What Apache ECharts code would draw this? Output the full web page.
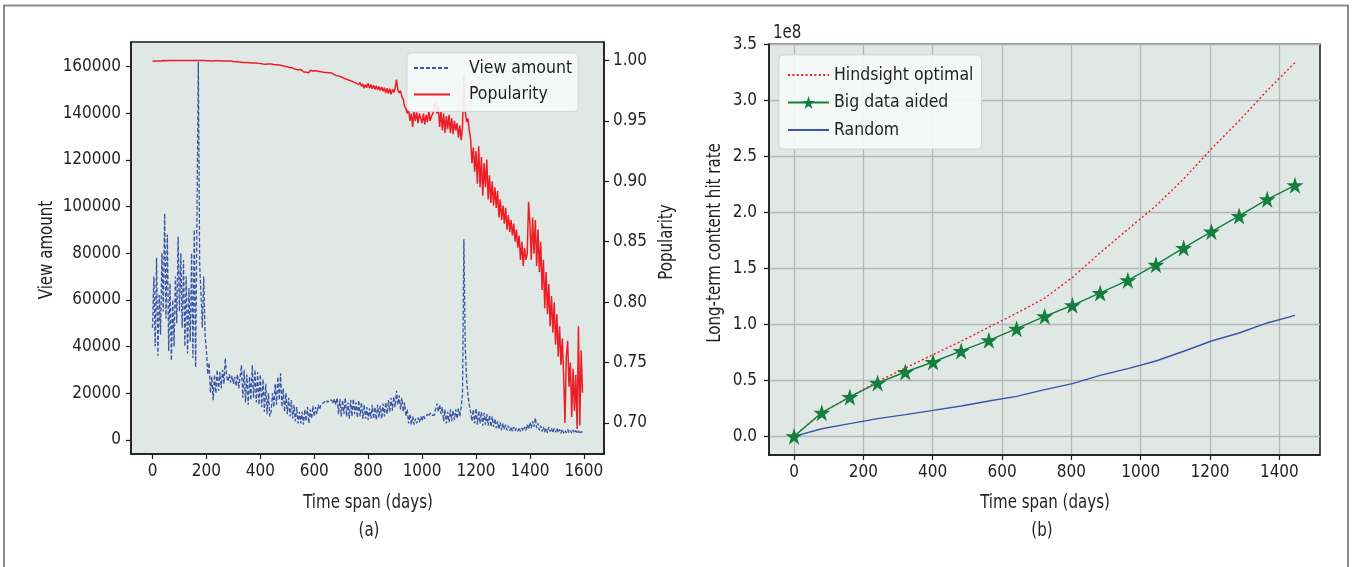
<!DOCTYPE html>
<html><head><meta charset="utf-8">
<script src="https://cdn.jsdelivr.net/npm/echarts@6/dist/echarts.min.js"></script>
<style>html,body{margin:0;padding:0;background:#fff;}#chart{width:1358px;height:567px;}</style>
</head><body><div id="chart"></div>
<script>
const FONT = "'Liberation Sans Narrow','DejaVu Sans Condensed','Arial Narrow',sans-serif";
const INK = '#231f20';

// ---- Panel (a): daily view amount and popularity, sampled every 5 days ----
const DAY_STEP = 5;
const viewAmount = [
  48000,70000,40000,78000,36000,62000,45000,80000,55000,97000,52000,88000,38000,67000,34000,60000,40000,70000,50000,87000,
  55000,80000,48000,77000,40000,70000,37000,65000,42000,80000,35000,90000,31000,95000,162000,75000,62000,48000,70000,45000,
  38000,28000,33000,20000,27000,17000,28000,20000,30000,21000,29000,22000,30000,24000,35000,27000,25000,28000,24500,27500,
  24000,27000,23000,28000,22000,27000,32000,18000,30000,16000,28000,15000,27000,17000,32000,18000,30000,16000,29000,15000,
  28000,14000,26000,12000,24000,11000,20000,10000,12000,20000,14000,24000,15000,27000,17000,28500,14000,22000,12000,20000,
  11000,18000,10000,17000,9000,15000,8000,14000,7000,12000,7000,12000,6500,13000,8000,14000,7000,13000,9000,14500,
  10000,14000,11000,15000,13000,15000,14500,16000,15500,17000,16000,17000,16500,17000,15500,17500,15000,18000,11000,17500,
  10000,17000,11000,18000,10000,16000,9000,17000,10000,17500,11000,16000,9500,17000,10000,16000,9000,15000,9000,14000,
  8500,13500,9000,15000,9000,14000,8500,15000,9500,14500,9000,15500,10000,16000,11000,17000,12000,18000,12500,18500,
  14000,21000,15000,19000,13000,18000,12000,16000,10000,13000,7000,11000,6500,10000,6500,9000,7000,9500,7500,10000,
  8000,10500,9000,10000,11000,10000,11500,10500,11000,10500,13000,15500,12000,15000,11000,14000,8000,13000,7000,12000,
  7500,13000,8000,12500,8500,13000,9000,13500,10000,14000,20000,86000,40000,26000,19000,15000,12000,8000,13000,7000,
  13500,6500,12500,7000,12000,6000,11500,6500,11000,6000,10500,5500,10000,5500,9000,5000,8000,4500,7500,4000,
  7000,4500,6500,4000,6000,3800,5500,3600,5500,3800,5000,3600,5200,3500,5000,3800,5500,4000,6500,4500,
  7500,5000,8000,5500,9400,5000,7000,4000,6000,3500,5500,3200,5000,3000,5500,3500,5000,3000,4800,3200,
  5000,3000,4500,2800,4500,2800,4000,3000,4500,3000,4000,2800,4200,2900,4000,2700,3800,2600,3500,3200
];
const popularity = [
  0.9993,0.9993,0.9994,0.9993,0.9994,0.9995,0.9995,0.9997,0.9998,0.9999,0.9997,0.9998,0.9998,0.9999,0.9999,1.0,0.9999,1.0,1.0,0.9999,
  1.0,0.9999,1.0,1.0,0.9999,1.0,1.0,0.9999,1.0,1.0,0.9999,1.0,1.0,0.9999,1.0,1.0,0.9999,0.9998,0.9999,0.9998,
  0.9997,0.9998,0.9996,0.9997,0.9995,0.9997,0.9996,0.9997,0.9996,0.9996,0.9997,0.9996,0.9995,0.9996,0.9995,0.9994,0.9995,0.9993,0.9994,0.9992,
  0.9990,0.9988,0.9989,0.9986,0.9987,0.9985,0.9984,0.9986,0.9983,0.9981,0.9982,0.9979,0.9980,0.9977,0.9978,0.9976,0.9978,0.9974,0.9976,0.9973,
  0.9975,0.9972,0.9970,0.9965,0.9968,0.9972,0.9969,0.9966,0.9970,0.9967,0.9965,0.9968,0.9964,0.9966,0.9962,0.9960,0.9958,0.9955,0.9952,0.9950,
  0.9948,0.9944,0.9940,0.9935,0.9938,0.9930,0.9926,0.9932,0.9922,0.9918,0.9925,0.9912,0.9906,0.9915,0.9902,0.9910,0.9898,0.9918,0.9905,0.9912,
  0.9905,0.9915,0.9900,0.9910,0.9898,0.9906,0.9895,0.9902,0.9892,0.9900,0.9890,0.9898,0.9886,0.9895,0.9888,0.9880,0.9885,0.9872,0.9878,0.9868,
  0.9870,0.9858,0.9864,0.9848,0.9856,0.9840,0.9848,0.9832,0.9840,0.9822,0.9832,0.9812,0.9825,0.9800,0.9818,0.9785,0.9805,0.9770,0.9800,0.9775,
  0.9810,0.9770,0.9800,0.9765,0.9795,0.9760,0.9790,0.9755,0.9785,0.9750,0.9780,0.9745,0.9775,0.9730,0.9770,0.9725,0.9765,0.9720,0.9760,0.9735,
  0.9770,0.9840,0.9760,0.9730,0.9750,0.9700,0.9680,0.9620,0.9600,0.9560,0.9600,0.9500,0.9560,0.9450,0.9580,0.9500,0.9570,0.9480,0.9560,0.9520,
  0.9480,0.9560,0.9470,0.9550,0.9490,0.9580,0.9500,0.9540,0.9560,0.9620,0.9660,0.9560,0.9620,0.9450,0.9580,0.9420,0.9560,0.9400,0.9540,0.9430,
  0.9550,0.9400,0.9520,0.9390,0.9500,0.9420,0.9480,0.9360,0.9460,0.9340,0.9450,0.9880,0.9580,0.9490,0.9520,0.9420,0.9350,0.9150,0.9280,0.9080,
  0.9250,0.8980,0.9290,0.8950,0.9200,0.8880,0.9150,0.8950,0.9180,0.8850,0.9050,0.8820,0.9000,0.8800,0.8950,0.8780,0.8920,0.8700,0.8850,0.8680,
  0.8800,0.8650,0.8780,0.8600,0.8720,0.8580,0.8680,0.8550,0.8650,0.8500,0.8600,0.8450,0.8550,0.8350,0.8500,0.8300,0.8450,0.8350,0.8400,0.8830,
  0.8650,0.8350,0.8700,0.8400,0.8680,0.8300,0.8600,0.8250,0.8500,0.8100,0.8350,0.7950,0.8250,0.7900,0.8150,0.7800,0.8050,0.7750,0.8000,0.7650,
  0.7900,0.7550,0.7800,0.7480,0.7700,0.7400,0.7000,0.7550,0.7680,0.7300,0.7500,0.7050,0.7450,0.7100,0.7400,0.6950,0.7800,0.6980,0.7600,0.7250
];
const leftDays = viewAmount.map((_, i) => i * DAY_STEP);
const leftXTicks = [0, 200, 400, 600, 800, 1000, 1200, 1400, 1600];
const viewTicks = [0, 20000, 40000, 60000, 80000, 100000, 120000, 140000, 160000];
const popTicks = [0.70, 0.75, 0.80, 0.85, 0.90, 0.95, 1.00];

// ---- Panel (b): long-term content hit rate ----
const rightDays = [0, 80, 161, 241, 321, 401, 482, 562, 642, 723, 803, 883, 963, 1044, 1124, 1204, 1284, 1365, 1445];
const hindsightOptimal = [0, 21100000, 35200000, 49000000, 61000000, 73000000, 85000000, 97500000, 110000000, 123500000,
  142000000, 164000000, 185000000, 206000000, 230000000, 257000000, 282000000, 309000000, 334000000];
const bigDataAided = [0, 21150000, 35150000, 47660000, 57500000, 66400000, 76300000, 85800000, 96200000, 107200000,
  117100000, 128100000, 139400000, 153400000, 168300000, 182900000, 196900000, 211800000, 224300000];
const randomPolicy = [0, 6800000, 11300000, 15800000, 19400000, 23200000, 27100000, 31600000, 35700000, 41700000,
  47100000, 54500000, 60500000, 67300000, 76000000, 85200000, 92300000, 101300000, 108100000];
const rightXTicks = [0, 200, 400, 600, 800, 1000, 1200, 1400];
const hitTicks = [0, 50000000, 100000000, 150000000, 200000000, 250000000, 300000000, 350000000];

const RED = '#ee1d25', BLUE = '#3a54a6', GREEN = '#147e3e';
const BG = '#dfe8e5';
const STAR = 'path://M50,2 L61.2,36.6 L97.6,36.6 L68.2,58 L79.4,92.6 L50,71.2 L20.6,92.6 L31.8,58 L2.4,36.6 L38.8,36.6 Z';

const pair = (xs, ys) => ys.map((v, i) => [xs[i], v]);
const txt = { fontFamily: FONT, fontSize: 17, color: INK };
const SPINE = '#1a1a1a';

function valAxis(o) {
  return Object.assign({
    type: 'value',
    axisLine: { show: true, onZero: false, lineStyle: { color: SPINE, width: 1.5 } },
    splitLine: { show: false }
  }, o);
}
function ticks(vals) {
  return { show: true, length: 5, customValues: vals, lineStyle: { color: SPINE, width: 1.2 } };
}
function labels(vals, margin, fmt) {
  return Object.assign({ customValues: vals, margin: margin, formatter: fmt }, txt);
}
function title(text, x, y, rot, align) {
  return { type: 'text', x: x, y: y, rotation: rot || 0, scaleX: 0.88, scaleY: 1,
    style: { text: text, fontFamily: FONT, fontSize: 19, fill: INK, align: align || 'center', verticalAlign: 'middle' } };
}

const chart = echarts.init(document.getElementById('chart'), null, { renderer: 'canvas' });
chart.setOption({
  animation: false,
  backgroundColor: '#ffffff',
  grid: [
    { left: 131, top: 42, width: 473, height: 412, show: true, backgroundColor: BG, borderColor: SPINE, borderWidth: 1.5 },
    { left: 769, top: 44.3, width: 551, height: 410.7, show: true, backgroundColor: BG, borderColor: SPINE, borderWidth: 1.5 }
  ],
  xAxis: [
    valAxis({ gridIndex: 0, min: -79.75, max: 1674.75,
      axisTick: ticks(leftXTicks), axisLabel: labels(leftXTicks, 9, v => String(Math.round(v))) }),
    valAxis({ gridIndex: 1, min: -72.25, max: 1517.25,
      axisTick: ticks(rightXTicks), axisLabel: labels(rightXTicks, 9, v => String(Math.round(v))),
      splitLine: { show: true, lineStyle: { color: '#b4b7b6', width: 1.3 } } })
  ],
  yAxis: [
    valAxis({ gridIndex: 0, min: -6100, max: 170500,
      axisTick: ticks(viewTicks), axisLabel: labels(viewTicks, 10, v => String(Math.round(v))) }),
    valAxis({ gridIndex: 0, position: 'right', min: 0.6744, max: 1.0152,
      axisTick: ticks(popTicks), axisLabel: labels(popTicks, 9, v => v.toFixed(2)) }),
    valAxis({ gridIndex: 1, min: -16680000, max: 350280000,
      axisTick: ticks(hitTicks), axisLabel: labels(hitTicks, 12, v => (v / 1e8).toFixed(1)),
      splitLine: { show: true, lineStyle: { color: '#b4b7b6', width: 1.3 } } })
  ],
  legend: [
    { data: [{ name: 'View amount', itemStyle: { opacity: 0 } }, { name: 'Popularity', itemStyle: { opacity: 0 } }],
      orient: 'vertical', left: 407, top: 53,
      itemWidth: 36, itemHeight: 12, itemGap: 8.5, padding: [6, 6, 8, 6],
      backgroundColor: 'rgba(245,248,247,0.92)', borderColor: '#d3d7d6', borderWidth: 1, borderRadius: 4,
      textStyle: Object.assign({ padding: [0, 0, 0, 14] }, txt, { fontSize: 17.5 }) },
    { data: [{ name: 'Hindsight optimal', itemStyle: { opacity: 0 } }, { name: 'Big data aided' }, { name: 'Random', itemStyle: { opacity: 0 } }],
      orient: 'vertical', left: 779, top: 55,
      itemWidth: 41, itemHeight: 16, itemGap: 9.5, padding: [11, 8, 10, 8],
      backgroundColor: 'rgba(245,248,247,0.92)', borderColor: '#d3d7d6', borderWidth: 1, borderRadius: 4,
      textStyle: Object.assign({}, txt, { fontSize: 17.5 }) }
  ],
  series: [
    { name: 'View amount', type: 'line', xAxisIndex: 0, yAxisIndex: 0, data: pair(leftDays, viewAmount),
      symbol: 'none', lineStyle: { color: BLUE, width: 1.3, type: [4, 2] }, itemStyle: { color: BLUE }, z: 2 },
    { name: 'Popularity', type: 'line', xAxisIndex: 0, yAxisIndex: 1, data: pair(leftDays, popularity),
      symbol: 'none', lineStyle: { color: RED, width: 1.5 }, itemStyle: { color: RED }, z: 3 },
    { name: 'Hindsight optimal', type: 'line', xAxisIndex: 1, yAxisIndex: 2, data: pair(rightDays, hindsightOptimal),
      symbol: 'none', lineStyle: { color: RED, width: 1.4, type: [2, 2.4] }, itemStyle: { color: RED }, z: 2 },
    { name: 'Big data aided', type: 'line', xAxisIndex: 1, yAxisIndex: 2, data: pair(rightDays, bigDataAided),
      symbol: STAR, symbolSize: 17, showSymbol: true, lineStyle: { color: GREEN, width: 1.4 },
      itemStyle: { color: GREEN, borderWidth: 0 }, z: 4 },
    { name: 'Random', type: 'line', xAxisIndex: 1, yAxisIndex: 2, data: pair(rightDays, randomPolicy),
      symbol: 'none', lineStyle: { color: BLUE, width: 1.4 }, itemStyle: { color: BLUE }, z: 3 }
  ],
  graphic: [
    { type: 'polyline', shape: { points: [[4, 567], [4, 5.5], [1348, 5.5], [1348, 567]] },
      style: { stroke: '#8a8a8a', lineWidth: 2, fill: null }, silent: true },
    title('View amount', 47, 250, Math.PI / 2),
    title('Popularity', 667, 242, Math.PI / 2),
    title('Long-term content hit rate', 715, 243, Math.PI / 2),
    title('Time span (days)', 368, 503),
    title('Time span (days)', 1045, 503),
    title('(a)', 369, 531),
    title('(b)', 1042, 531),
    title('1e8', 773, 33, 0, 'left')
  ]
});
</script>
</body></html>
